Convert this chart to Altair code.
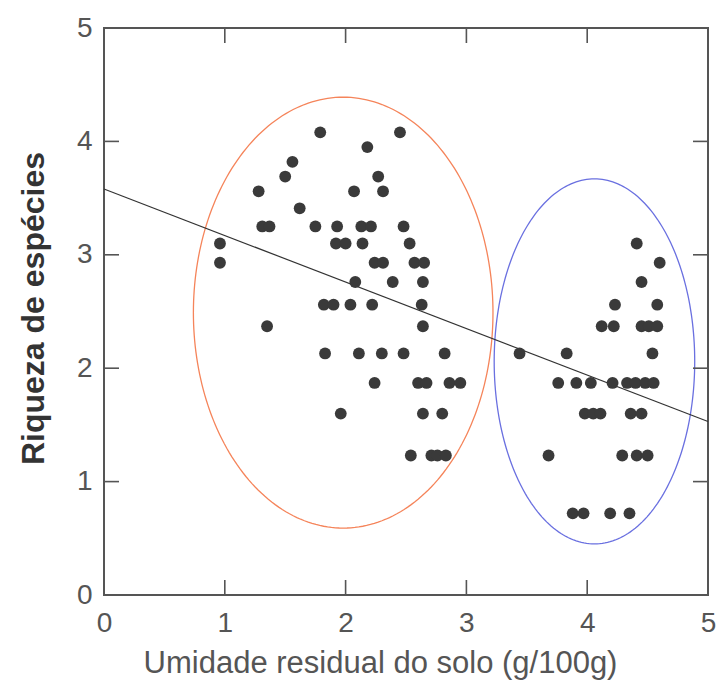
import altair as alt
import numpy as np
import pandas as pd

# ---- data ----
left_x = [1.79, 2.45, 2.18, 1.56, 1.50, 2.27, 1.28, 2.07, 2.31, 1.62,
          1.31, 1.37, 1.75, 1.93, 2.13, 2.21, 2.48,
          0.96, 1.92, 2.00, 2.14, 2.53,
          0.96, 2.24, 2.31, 2.57, 2.65,
          2.08, 2.39, 2.64,
          1.82, 1.90, 2.04, 2.22, 2.63,
          1.35, 2.64,
          1.83, 2.11, 2.30, 2.48, 2.82,
          2.24, 2.60, 2.67, 2.86, 2.95,
          1.96, 2.64, 2.80,
          2.54, 2.71, 2.76, 2.83]
left_y = [4.08, 4.08, 3.95, 3.82, 3.69, 3.69, 3.56, 3.56, 3.56, 3.41,
          3.25, 3.25, 3.25, 3.25, 3.25, 3.25, 3.25,
          3.10, 3.10, 3.10, 3.10, 3.10,
          2.93, 2.93, 2.93, 2.93, 2.93,
          2.76, 2.76, 2.76,
          2.56, 2.56, 2.56, 2.56, 2.56,
          2.37, 2.37,
          2.13, 2.13, 2.13, 2.13, 2.13,
          1.87, 1.87, 1.87, 1.87, 1.87,
          1.60, 1.60, 1.60,
          1.23, 1.23, 1.23, 1.23]

right_x = [4.41, 4.60, 4.45,
           4.23, 4.58,
           4.12, 4.22, 4.45, 4.51, 4.58,
           3.44, 3.83, 4.54,
           3.76, 3.91, 4.03, 4.21, 4.33, 4.40, 4.48, 4.55,
           3.98, 4.05, 4.11, 4.36, 4.45,
           3.68, 4.29, 4.41, 4.50,
           3.88, 3.97, 4.19, 4.35]
right_y = [3.10, 2.93, 2.76,
           2.56, 2.56,
           2.37, 2.37, 2.37, 2.37, 2.37,
           2.13, 2.13, 2.13,
           1.87, 1.87, 1.87, 1.87, 1.87, 1.87, 1.87, 1.87,
           1.60, 1.60, 1.60, 1.60, 1.60,
           1.23, 1.23, 1.23, 1.23,
           0.72, 0.72, 0.72, 0.72]

# regression line end points
reg_x = [0.0, 5.0]
reg_y = [3.58, 1.53]

# ellipses: name, center x, center y, semi-axis x, semi-axis y, colour
ellipse_names = ["orange", "blue"]
ellipse_cx = [1.98, 4.06]
ellipse_cy = [2.49, 2.06]
ellipse_ax = [1.24, 0.83]
ellipse_ay = [1.90, 1.61]
ellipse_colors = ["#f5845a", "#6a70e0"]

tick_values = [0, 1, 2, 3, 4, 5]
inner_ticks = [1, 2, 3, 4]

W, H = 604, 567
TL = 15  # inward tick length in pixels
DMAX = 5.0

# ---- tables ----
pts = pd.DataFrame({"x": left_x + right_x, "y": left_y + right_y})
reg = pd.DataFrame({"x": reg_x, "y": reg_y})

rows = []
t = np.linspace(0, 2 * np.pi, 241)
for n, cx, cy, ax_, ay_ in zip(ellipse_names, ellipse_cx, ellipse_cy, ellipse_ax, ellipse_ay):
    for i, tt in enumerate(t):
        rows.append({"g": n, "i": i, "x": cx + ax_ * np.cos(tt), "y": cy + ay_ * np.sin(tt)})
ell = pd.DataFrame(rows)

tx = TL / W * DMAX
ty = TL / H * DMAX
hticks = pd.DataFrame(
    [{"v": v, "a": 0.0, "b": tx} for v in inner_ticks]
    + [{"v": v, "a": DMAX - tx, "b": DMAX} for v in inner_ticks])
vticks = pd.DataFrame(
    [{"v": v, "a": 0.0, "b": ty} for v in inner_ticks]
    + [{"v": v, "a": DMAX - ty, "b": DMAX} for v in inner_ticks])

xs = alt.Scale(domain=[0, 5], nice=False, zero=False)
ys = alt.Scale(domain=[0, 5], nice=False, zero=False)

x_axis = alt.Axis(values=tick_values, format="d", ticks=False, domain=False, grid=False,
                  labelFontSize=28, labelColor="#555555", labelPadding=14,
                  labelFont="Liberation Sans", labelFlush=False,
                  title="Umidade residual do solo (g/100g)", titleFontSize=31,
                  titleFont="Liberation Sans", titleFontWeight="normal",
                  titleColor="#555555", titleX=276, titleY=77, titleAlign="center",
                  titleBaseline="alphabetic")
y_axis = alt.Axis(values=tick_values, format="d", ticks=False, domain=False, grid=False,
                  labelFontSize=28, labelColor="#555555", labelPadding=12,
                  labelFont="Liberation Sans", labelFlush=False,
                  title="Riqueza de espécies", titleFontSize=32,
                  titleFont="Liberation Sans", titleFontWeight="bold",
                  titleColor="#333333", titleX=-61, titleY=280, titleAngle=270,
                  titleAlign="center", titleBaseline="alphabetic")

base_pts = alt.Chart(pts).mark_point(filled=True, shape="circle", size=140,
                                     opacity=1, color="#3a3a3a").encode(
    x=alt.X("x:Q", scale=xs, axis=x_axis),
    y=alt.Y("y:Q", scale=ys, axis=y_axis),
)

ellipses = alt.Chart(ell).mark_line(strokeWidth=1.3).encode(
    x=alt.X("x:Q", scale=xs),
    y=alt.Y("y:Q", scale=ys),
    detail="g:N",
    order="i:Q",
    color=alt.Color("g:N", scale=alt.Scale(domain=ellipse_names, range=ellipse_colors),
                    legend=None),
)

reg_line = alt.Chart(reg).mark_line(strokeWidth=1.2, color="#333333").encode(
    x=alt.X("x:Q", scale=xs),
    y=alt.Y("y:Q", scale=ys),
)

tk_style = dict(color="#555555", strokeWidth=1.6)
tick_h = alt.Chart(hticks).mark_rule(**tk_style).encode(
    y=alt.Y("v:Q", scale=ys), x=alt.X("a:Q", scale=xs), x2="b:Q")
tick_v = alt.Chart(vticks).mark_rule(**tk_style).encode(
    x=alt.X("v:Q", scale=xs), y=alt.Y("a:Q", scale=ys), y2="b:Q")

chart = alt.layer(ellipses, reg_line, tick_h, tick_v, base_pts).properties(
    width=W, height=H,
    autosize=alt.AutoSizeParams(type="none"),
    padding={"left": 104, "top": 28, "right": 11, "bottom": 89},
    background="white",
).configure_view(stroke="#555555", strokeWidth=2)

chart.save("out.html", embed_options={"renderer": "svg", "actions": False})
